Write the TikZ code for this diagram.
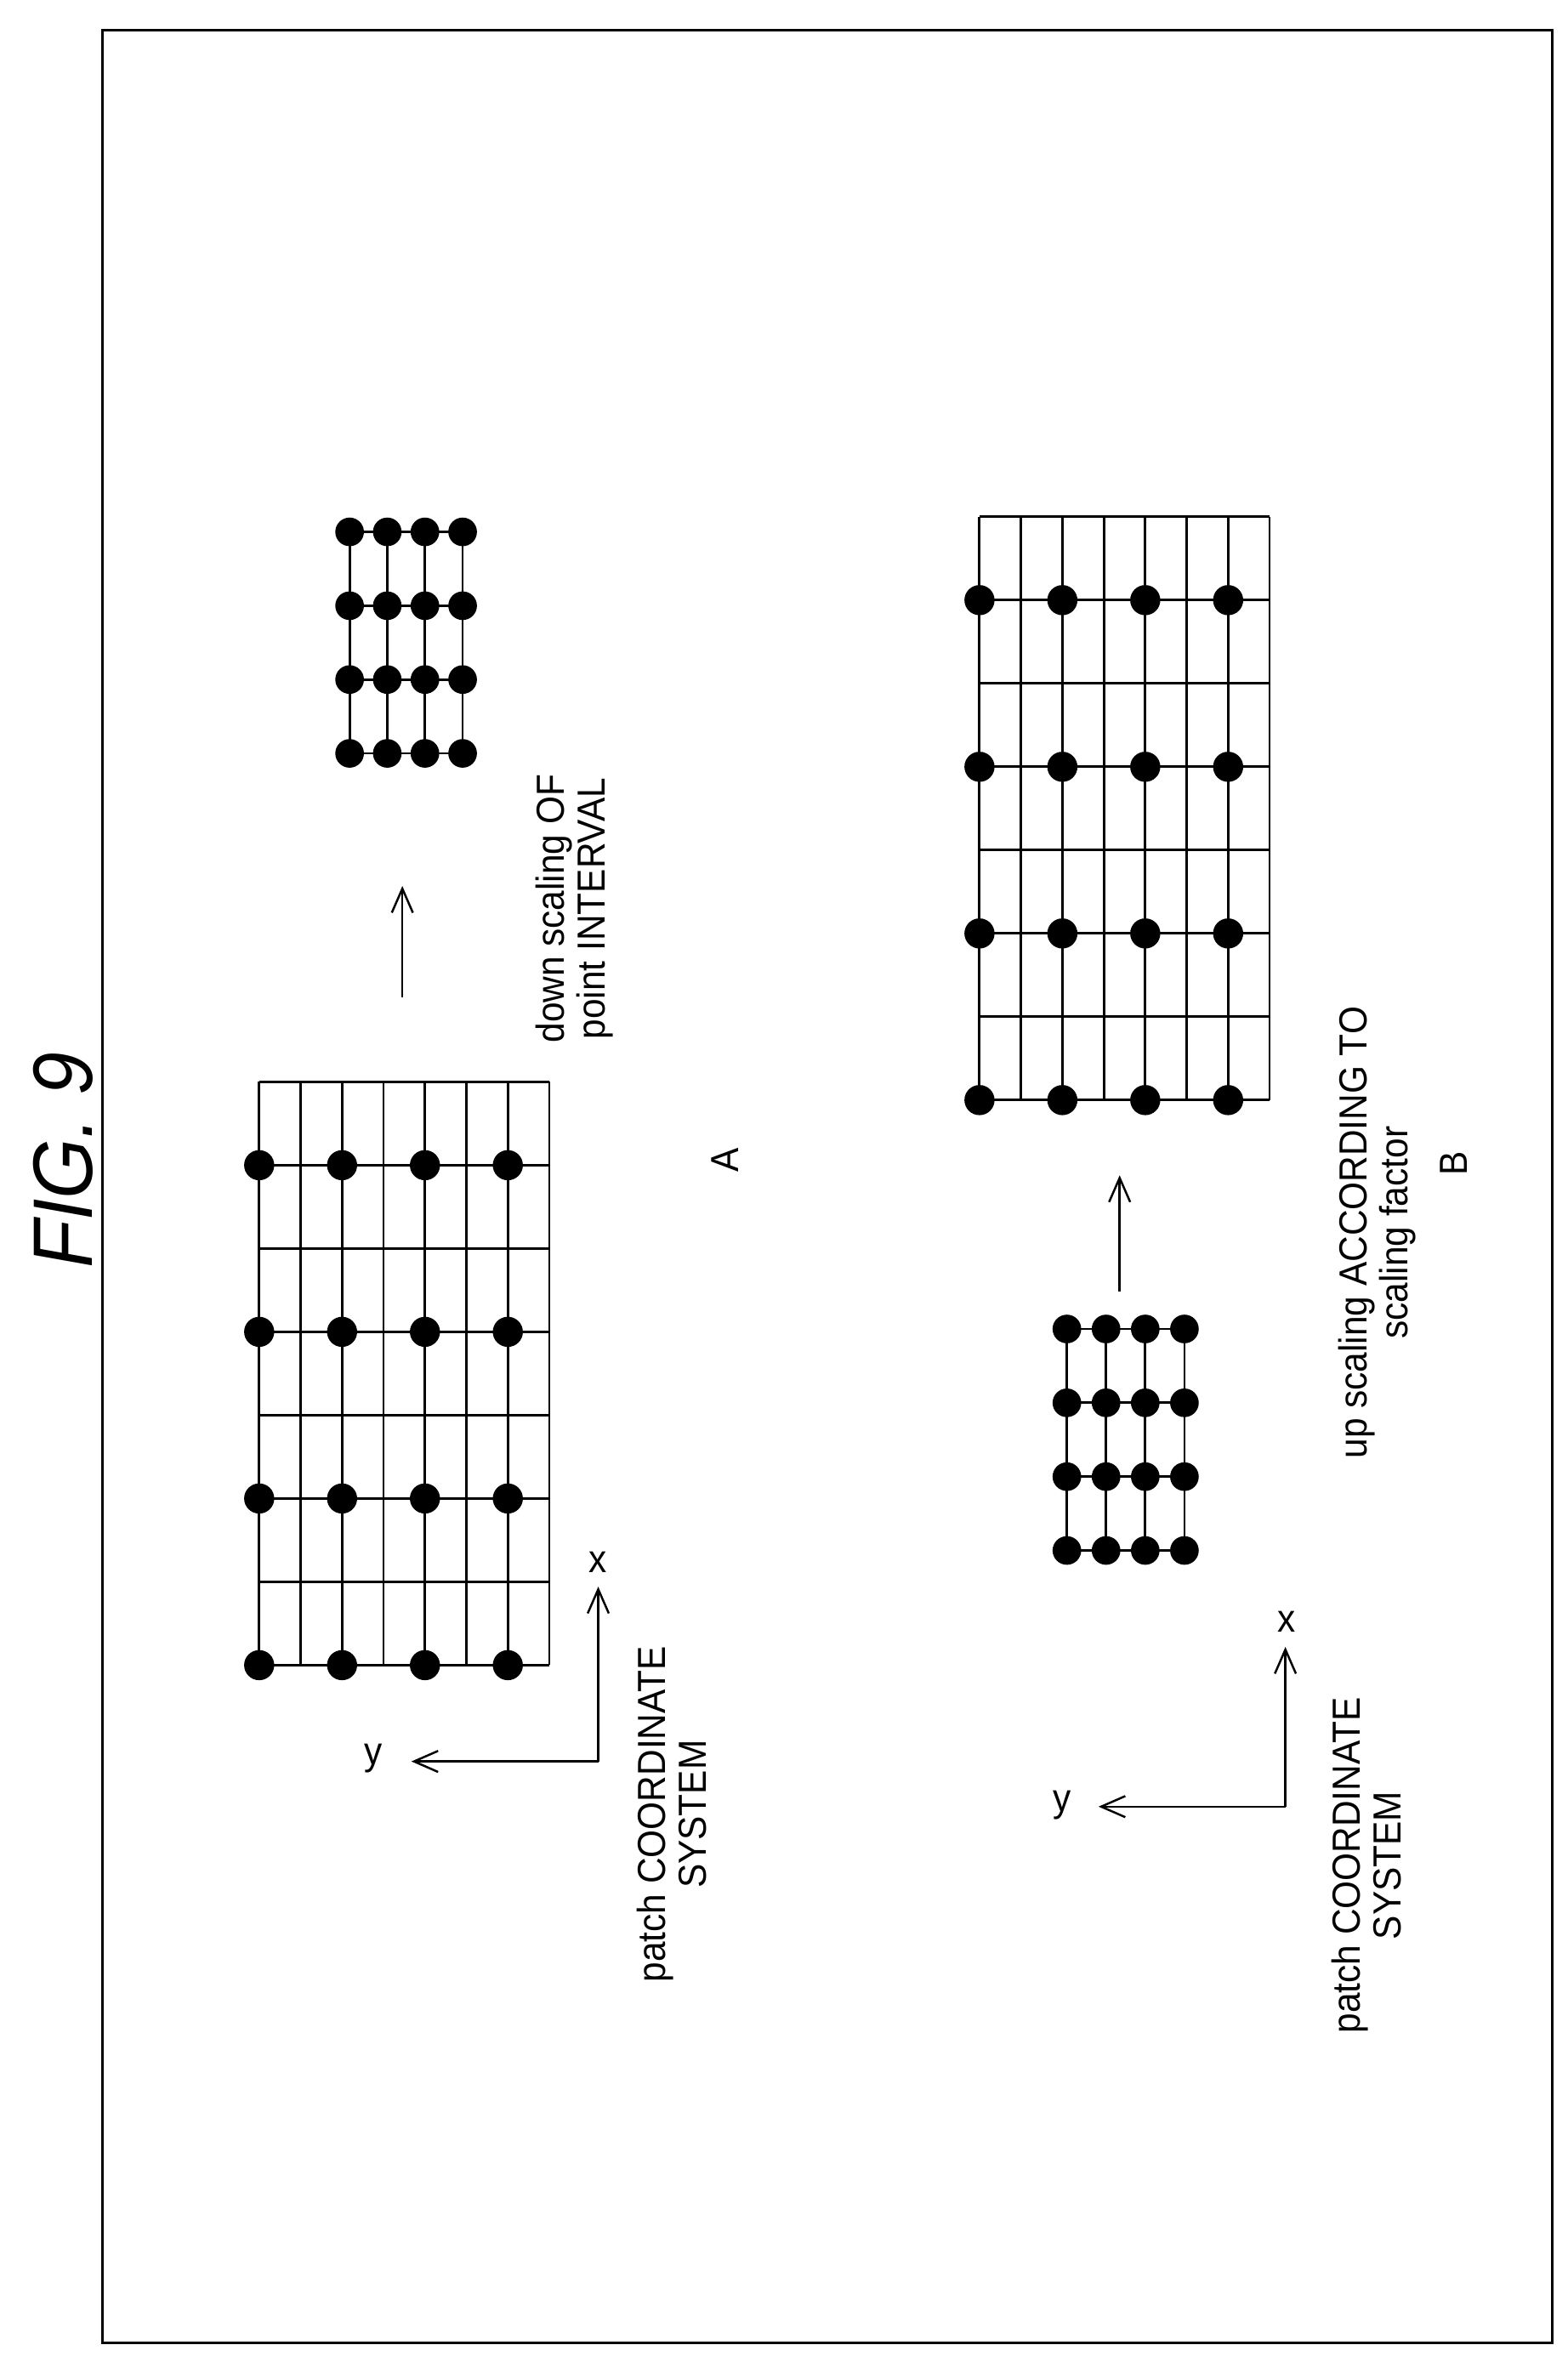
\documentclass[tikz,border=0pt]{standalone}
\usepackage{fontspec}
\setmainfont[FakeStretch=0.92]{Liberation Sans}
\usetikzlibrary{arrows.meta, positioning}

\begin{document}
\begin{tikzpicture}[
        x=0.5pt, y=-0.5pt,
        every node/.style={font=\fontsize{13}{13.5}\selectfont, align=center},
        vlabel/.style={rotate=90},
        grid/.style={line width=0.8pt},
        dot/.style={fill=black, draw=none},
        arrow/.style={-{Straight Barb[length=8pt,width=7pt]}, line width=0.7pt}
    ]
    \useasboundingbox (0,0) rectangle (1040,1567.6);

    % Frame and title
    \draw[line width=0.8pt] (68,20) rectangle (1030,1555);
    \node[vlabel, font=\fontsize{28}{30}\selectfont\itshape] (title) at (42,770) {FIG. 9};

    % Large grids (A: 172,718 ; B: 650,343)
    \foreach \gx/\gy in {172/718, 650/343} {
        \foreach \i in {0,...,7}
            \draw[grid] (\gx+27.5*\i,\gy) -- (\gx+27.5*\i,\gy+387);
        \foreach \j in {0,...,7}
            \draw[grid] (\gx,\gy+55.3*\j) -- (\gx+192.5,\gy+55.3*\j);
        \foreach \i in {0,2,4,6}
            \foreach \j in {1,3,5,7}
                \fill[dot] (\gx+27.5*\i,\gy+55.3*\j) circle (10);
    }

    % Small grids (A: 232,353 ; B: 708,882)
    \foreach \sx/\sy/\dx in {232/353/25, 708/882/26} {
        \foreach \i in {0,...,3}
            \draw[grid] (\sx+\dx*\i,\sy) -- (\sx+\dx*\i,\sy+147);
        \foreach \j in {0,...,3}
            \draw[grid] (\sx,\sy+49*\j) -- (\sx+3*\dx,\sy+49*\j);
        \foreach \i in {0,...,3}
            \foreach \j in {0,...,3}
                \fill[dot] (\sx+\dx*\i,\sy+49*\j) circle (9.5);
    }

    % Scaling arrows
    \coordinate (a1) at (267,662);
    \coordinate (a2) at (267,588);
    \coordinate (b1) at (743,857);
    \coordinate (b2) at (743,780);
    \draw[arrow] (a1) -- (a2);
    \draw[arrow] (b1) -- (b2);

    % Patch coordinate systems
    \coordinate (oA) at (397,1169);
    \coordinate (oB) at (853,1199);
    \node (xA) at (397,1037) {x};
    \node (yA) at (248,1167) {y};
    \node (xB) at (854,1076) {x};
    \node (yB) at (705,1198) {y};
    \draw[arrow] (oA) -- (397,1053);
    \draw[arrow] (oA) -- (273,1169);
    \draw[arrow] (oB) -- (853,1093);
    \draw[arrow] (oB) -- (729,1199);

    % Labels
    \node[vlabel] (patchA) at (446,1204) {patch COORDINATE\\SYSTEM};
    \node[vlabel] (down) at (381,603) {down scaling OF\\point INTERVAL};
    \node[vlabel] (A) at (481,770) {A};
    \node[vlabel] (up) at (914,818) {up scaling ACCORDING TO\\scaling factor};
    \node[vlabel] (B) at (965,772) {B};
    \node[vlabel] (patchB) at (907,1238) {patch COORDINATE\\SYSTEM};

\end{tikzpicture}
\end{document}
